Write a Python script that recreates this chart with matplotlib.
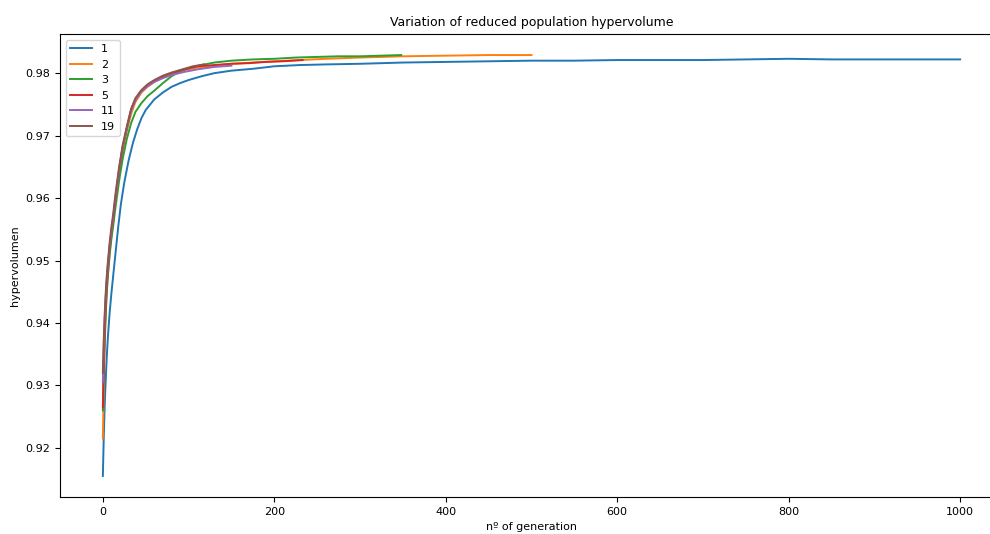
import matplotlib
matplotlib.use("Agg")
import matplotlib.pyplot as plt

labels = ["1", "2", "3", "5", "11", "19"]

gen_1 = [0, 1, 2, 3, 4, 5, 6, 8, 10, 12, 15, 18, 21, 25, 30, 35, 40, 45, 50, 60, 70, 80, 90, 100,
         115, 130, 150, 175, 200, 230, 260, 300, 350, 400, 450, 500, 550, 600, 650, 700, 750,
         800, 850, 900, 950, 1000]
hv_1 = [0.9155, 0.9215, 0.9262, 0.9298, 0.9330, 0.9357, 0.9380, 0.9418, 0.9448, 0.9475, 0.9515,
        0.9555, 0.9590, 0.9625, 0.9660, 0.9688, 0.9710, 0.9728, 0.9741, 0.9758, 0.9769, 0.9778,
        0.9784, 0.9789, 0.9795, 0.9800, 0.9804, 0.9807, 0.9811, 0.9813, 0.9814, 0.9815, 0.9817,
        0.9818, 0.9819, 0.9820, 0.9820, 0.9821, 0.9821, 0.9821, 0.9822, 0.9823, 0.9822, 0.9822,
        0.9822, 0.9822]

gen_2 = [0, 1, 2, 3, 4, 5, 6, 8, 10, 12, 15, 19, 23, 28, 33, 38, 45, 52, 60, 70, 80, 95, 110,
         130, 150, 175, 200, 230, 260, 300, 350, 400, 450, 500]
hv_2 = [0.9215, 0.9295, 0.9355, 0.9400, 0.9435, 0.9460, 0.9480, 0.9515, 0.9540, 0.9562, 0.9598,
        0.9640, 0.9675, 0.9708, 0.9735, 0.9754, 0.9769, 0.9778, 0.9786, 0.9793, 0.9799, 0.9805,
        0.9809, 0.9812, 0.9815, 0.9817, 0.9819, 0.9821, 0.9823, 0.9825, 0.9827, 0.9828, 0.9829,
        0.9829]

gen_3 = [0, 1, 2, 3, 4, 5, 6, 8, 10, 12, 15, 19, 23, 28, 33, 38, 45, 52, 60, 70, 80, 90, 100,
         115, 130, 150, 175, 200, 225, 250, 275, 300, 325, 348]
hv_3 = [0.9260, 0.9322, 0.9370, 0.9405, 0.9435, 0.9458, 0.9478, 0.9510, 0.9535, 0.9555, 0.9588,
        0.9628, 0.9662, 0.9695, 0.9720, 0.9738, 0.9752, 0.9763, 0.9772, 0.9784, 0.9795, 0.9803,
        0.9808, 0.9813, 0.9817, 0.9820, 0.9822, 0.9823, 0.9825, 0.9826, 0.9827, 0.9827, 0.9828,
        0.9829]

gen_5 = [0, 1, 2, 3, 4, 5, 6, 8, 10, 12, 15, 19, 23, 28, 33, 38, 45, 52, 60, 70, 80, 95, 110,
         130, 150, 170, 190, 210, 233]
hv_5 = [0.9265, 0.9330, 0.9380, 0.9418, 0.9450, 0.9472, 0.9490, 0.9522, 0.9546, 0.9566, 0.9602,
        0.9645, 0.9680, 0.9712, 0.9742, 0.9758, 0.9772, 0.9780, 0.9787, 0.9794, 0.9800, 0.9806,
        0.9811, 0.9813, 0.9815, 0.9816, 0.9818, 0.9819, 0.9821]

gen_11 = [0, 1, 2, 3, 4, 5, 6, 8, 10, 12, 15, 19, 23, 28, 33, 38, 45, 52, 60, 70, 80, 95, 110,
          130, 150]
hv_11 = [0.9305, 0.9360, 0.9400, 0.9432, 0.9458, 0.9478, 0.9494, 0.9524, 0.9548, 0.9568, 0.9604,
         0.9646, 0.9681, 0.9712, 0.9740, 0.9757, 0.9771, 0.9779, 0.9786, 0.9792, 0.9797, 0.9802,
         0.9806, 0.9810, 0.9812]

gen_19 = [0, 1, 2, 3, 4, 5, 6, 8, 10, 12, 15, 19, 23, 28, 33, 38, 45, 52, 60, 70, 80, 95, 105,
          118]
hv_19 = [0.9320, 0.9372, 0.9410, 0.9440, 0.9464, 0.9484, 0.9500, 0.9530, 0.9554, 0.9574, 0.9610,
         0.9650, 0.9684, 0.9715, 0.9743, 0.9760, 0.9773, 0.9782, 0.9789, 0.9796, 0.9801, 0.9807,
         0.9811, 0.9814]

series = [(gen_1, hv_1), (gen_2, hv_2), (gen_3, hv_3), (gen_5, hv_5), (gen_11, hv_11), (gen_19, hv_19)]

fig = plt.figure(figsize=(9.9, 5.34), dpi=100)
ax = fig.add_axes([60 / 990, 37 / 534, (1003 - 60) / 990, (497 - 34) / 534])

for (g, h), lab in zip(series, labels):
    ax.plot(g, h, label=lab, linewidth=1.4)

ax.set_xlim(-50, 1050)
ax.spines["right"].set_visible(False)
ax.set_title("Variation of reduced population hypervolume", fontsize=9)
ax.set_xlabel("nº of generation", fontsize=8)
ax.set_ylabel("hypervolumen", fontsize=8)
ax.tick_params(labelsize=8)
ax.legend(loc="upper left", fontsize=8)

fig.savefig("out.png", dpi=100)
